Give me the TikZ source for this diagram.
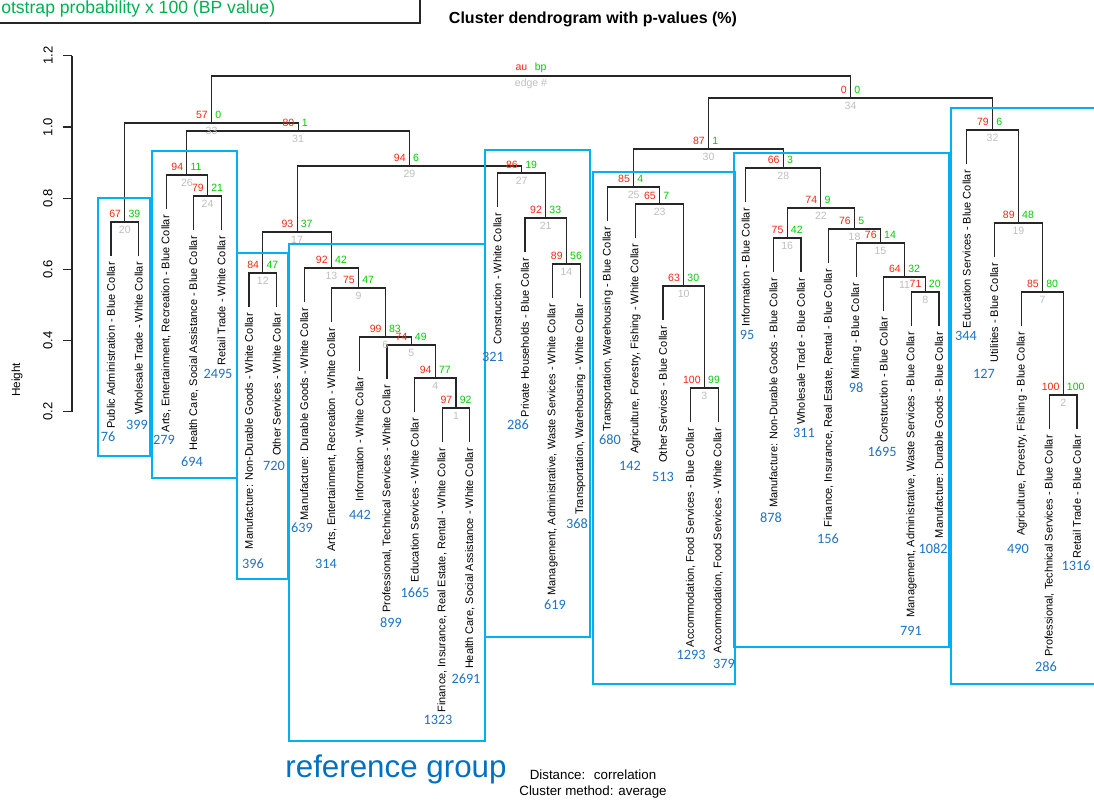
\documentclass[tikz,border=0pt]{standalone}
\usepackage{fontspec}
\setmainfont{Liberation Sans}
\newfontfamily\cntfont{Carlito}
\usetikzlibrary{calc}

\definecolor{aured}{RGB}{240,40,20}
\definecolor{bpgreen}{RGB}{0,205,0}
\definecolor{edgegray}{RGB}{190,190,190}
\definecolor{boxblue}{RGB}{0,176,240}
\definecolor{cntblue}{RGB}{30,115,195}
\definecolor{refblue}{RGB}{0,112,192}
\definecolor{legendgreen}{RGB}{0,176,80}

% leaf: name, position index, end of the hanging line, label
\newcommand{\leaf}[4]{%
  \coordinate (#1) at ({111+27.6*(#2-1)},#3);
  \node[leaflabel] (#1t) at ($(#1)+(0,6)$) {#4};
}
% au / bp / edge numbers of a merge
\newcommand{\pvlab}[4]{%
  \node[aulab] (#1au) at ($(#1)+(-3.5,-8)$) {#2};
  \node[bplab] (#1bp) at ($(#1)+(3.5,-8)$) {#3};
  \node[edgelab] (#1ed) at ($(#1)+(0,8)$) {#4};
}
% elbow link of a merge to its two children
\newcommand{\dlink}[3]{\draw[link] (#2) |- (#1) -| (#3);}

\begin{document}
\begin{tikzpicture}[x=0.75pt,y=-0.75pt,
  link/.style={draw=black!85, line width=0.8pt},
  leaflabel/.style={rotate=90, anchor=east, inner sep=0pt, font=\fontsize{8.25}{9}\selectfont},
  pvnum/.style={inner sep=0pt, font=\fontsize{7.9}{9}\selectfont},
  aulab/.style={pvnum, text=aured, anchor=east},
  bplab/.style={pvnum, text=bpgreen, anchor=west},
  edgelab/.style={pvnum, text=edgegray},
  cnt/.style={inner sep=0pt, text=cntblue, font=\cntfont\fontsize{10.7}{12}\selectfont},
  grpbox/.style={draw=boxblue, line width=1.5pt},
  axis/.style={draw=black!85, line width=0.8pt},
  ticklab/.style={rotate=90, inner sep=0pt, font=\fontsize{9.8}{11}\selectfont}
]
\useasboundingbox (0,0) rectangle (1094,803);
\clip (0,0) rectangle (1094,803);

% legend box (upper left)
\draw[line width=1.1pt, black!85] (-5,23) -- (420,23) -- (420,-5);
\node[anchor=west, inner sep=0pt, text=legendgreen, font=\fontsize{13.2}{15}\selectfont] (legend) at (1,9) {otstrap probability x 100 (BP value)};

% title
\node[font=\bfseries\fontsize{12}{14}\selectfont] (title) at (593,19) {Cluster dendrogram with p-values (\%)};

% height axis
\draw[axis] (72,55.8) -- (72,411.8);
\foreach \h/\yy in {0.2/411.8,0.4/340.6,0.6/269.4,0.8/198.2,1.0/127,1.2/55.8}{
  \draw[axis] (63,\yy) -- (72,\yy);
  \node[ticklab] at (48,\yy) {\h};
}
\node[rotate=90, inner sep=0pt, font=\fontsize{8.8}{10}\selectfont] (ylab) at (17,380) {Height};

% leaves
\leaf{l1}{1}{256}{Public Administration - Blue Collar}
\leaf{l2}{2}{256}{Wholesale Trade - White Collar}
\leaf{l3}{3}{209}{Arts, Entertainment, Recreation - Blue Collar}
\leaf{l4}{4}{230}{Health Care, Social Assistance - Blue Collar}
\leaf{l5}{5}{230}{Retail Trade - White Collar}
\leaf{l6}{6}{307}{Manufacture: Non-Durable Goods - White Collar}
\leaf{l7}{7}{307}{Other Services - White Collar}
\leaf{l8}{8}{302}{Manufacture: Durable Goods - White Collar}
\leaf{l9}{9}{322}{Arts, Entertainment, Recreation - White Collar}
\leaf{l10}{10}{371}{Information - White Collar}
\leaf{l11}{11}{379}{Professional, Technical Services - White Collar}
\leaf{l12}{12}{412}{Education Services - White Collar}
\leaf{l13}{13}{442}{Finance, Insurance, Real Estate, Rental - White Collar}
\leaf{l14}{14}{442}{Health Care, Social Assistance - White Collar}
\leaf{l15}{15}{207}{Construction - White Collar}
\leaf{l16}{16}{252}{Private Households - Blue Collar}
\leaf{l17}{17}{298}{Management, Administrative, Waste Services - White Collar}
\leaf{l18}{18}{298}{Transportation, Warehousing - White Collar}
\leaf{l19}{19}{221}{Transportation, Warehousing - Blue Collar}
\leaf{l20}{20}{238}{Agriculture, Forestry, Fishing - White Collar}
\leaf{l21}{21}{320}{Other Services - Blue Collar}
\leaf{l22}{22}{422}{Accommodation, Food Services - Blue Collar}
\leaf{l23}{23}{422}{Accommodation, Food Services - White Collar}
\leaf{l24}{24}{202}{Information - Blue Collar}
\leaf{l25}{25}{272}{Manufacture: Non-Durable Goods - Blue Collar}
\leaf{l26}{26}{272}{Wholesale Trade - Blue Collar}
\leaf{l27}{27}{263}{Finance, Insurance, Real Estate, Rental - Blue Collar}
\leaf{l28}{28}{277}{Mining - Blue Collar}
\leaf{l29}{29}{311}{Construction - Blue Collar}
\leaf{l30}{30}{326}{Management, Administrative, Waste Services - Blue Collar}
\leaf{l31}{31}{326}{Manufacture: Durable Goods - Blue Collar}
\leaf{l32}{32}{164}{Education Services - Blue Collar}
\leaf{l33}{33}{257}{Utilities - Blue Collar}
\leaf{l34}{34}{326}{Agriculture, Forestry, Fishing - Blue Collar}
\leaf{l35}{35}{429}{Professional, Technical Services - Blue Collar}
\leaf{l36}{36}{429}{Retail Trade - Blue Collar}

% merge points (x = centre of the children, y = height)
\coordinate (m1) at (456,408);
\coordinate (m2) at (1063.2,395);
\coordinate (m3) at (704.4,388);
\coordinate (m4) at (435.3,378);
\coordinate (m5) at (411.2,345);
\coordinate (m6) at (385.3,337);
\coordinate (m7) at (1042.5,292);
\coordinate (m8) at (925.2,292);
\coordinate (m9) at (358.5,288);
\coordinate (m10) at (683.7,286);
\coordinate (m11) at (904.5,277);
\coordinate (m12) at (262.8,273);
\coordinate (m13) at (331.4,268);
\coordinate (m14) at (566.4,264);
\coordinate (m15) at (880.4,243);
\coordinate (m16) at (787.2,238);
\coordinate (m17) at (297.1,232);
\coordinate (m18) at (854.5,229);
\coordinate (m19) at (1018.4,223);
\coordinate (m20) at (124.8,222);
\coordinate (m21) at (545.7,218);
\coordinate (m22) at (820.9,208);
\coordinate (m23) at (659.6,204);
\coordinate (m24) at (207.6,196);
\coordinate (m25) at (633.7,187);
\coordinate (m26) at (186.9,175);
\coordinate (m27) at (521.6,173);
\coordinate (m28) at (783.3,168);
\coordinate (m29) at (409.4,166);
\coordinate (m30) at (708.5,149);
\coordinate (m31) at (298.1,131);
\coordinate (m32) at (992.5,130);
\coordinate (m33) at (211.5,123);
\coordinate (m34) at (850.5,98);
\coordinate (m35) at (531,76);

% dendrogram links
\dlink{m1}{l13}{l14}
\dlink{m2}{l35}{l36}
\dlink{m3}{l22}{l23}
\dlink{m4}{l12}{m1}
\dlink{m5}{l11}{m4}
\dlink{m6}{l10}{m5}
\dlink{m7}{l34}{m2}
\dlink{m8}{l30}{l31}
\dlink{m9}{l9}{m6}
\dlink{m10}{l21}{m3}
\dlink{m11}{l29}{m8}
\dlink{m12}{l6}{l7}
\dlink{m13}{l8}{m9}
\dlink{m14}{l17}{l18}
\dlink{m15}{l28}{m11}
\dlink{m16}{l25}{l26}
\dlink{m17}{m12}{m13}
\dlink{m18}{l27}{m15}
\dlink{m19}{l33}{m7}
\dlink{m20}{l1}{l2}
\dlink{m21}{l16}{m14}
\dlink{m22}{m16}{m18}
\dlink{m23}{l20}{m10}
\dlink{m24}{l4}{l5}
\dlink{m25}{l19}{m23}
\dlink{m26}{l3}{m24}
\dlink{m27}{l15}{m21}
\dlink{m28}{l24}{m22}
\dlink{m29}{m17}{m27}
\dlink{m30}{m25}{m28}
\dlink{m31}{m26}{m29}
\dlink{m32}{l32}{m19}
\dlink{m33}{m20}{m31}
\dlink{m34}{m30}{m32}
\dlink{m35}{m33}{m34}

% p-values and edge numbers
\pvlab{m1}{97}{92}{1}
\pvlab{m2}{100}{100}{2}
\pvlab{m3}{100}{99}{3}
\pvlab{m4}{94}{77}{4}
\pvlab{m5}{74}{49}{5}
\pvlab{m6}{99}{83}{6}
\pvlab{m7}{85}{80}{7}
\pvlab{m8}{71}{20}{8}
\pvlab{m9}{75}{47}{9}
\pvlab{m10}{63}{30}{10}
\pvlab{m11}{64}{32}{11}
\pvlab{m12}{84}{47}{12}
\pvlab{m13}{92}{42}{13}
\pvlab{m14}{89}{56}{14}
\pvlab{m15}{76}{14}{15}
\pvlab{m16}{75}{42}{16}
\pvlab{m17}{93}{37}{17}
\pvlab{m18}{76}{5}{18}
\pvlab{m19}{89}{48}{19}
\pvlab{m20}{67}{39}{20}
\pvlab{m21}{92}{33}{21}
\pvlab{m22}{74}{9}{22}
\pvlab{m23}{65}{7}{23}
\pvlab{m24}{79}{21}{24}
\pvlab{m25}{85}{4}{25}
\pvlab{m26}{94}{11}{26}
\pvlab{m27}{86}{19}{27}
\pvlab{m28}{66}{3}{28}
\pvlab{m29}{94}{6}{29}
\pvlab{m30}{87}{1}{30}
\pvlab{m31}{80}{1}{31}
\pvlab{m32}{79}{6}{32}
\pvlab{m33}{57}{0}{33}
\pvlab{m34}{0}{0}{34}
\pvlab{m35}{au}{bp}{edge \#}

% group frames
\draw[grpbox] (98,198) rectangle (150,456);
\draw[grpbox] (152,151) rectangle (237,478);
\draw[grpbox] (237,253) rectangle (288,579);
\draw[grpbox] (289,244) rectangle (485,741);
\draw[grpbox] (485,150) rectangle (590,637);
\draw[grpbox] (593,172) rectangle (735,684);
\draw[grpbox] (734,153) rectangle (949,647);
\draw[grpbox] (951,108) rectangle (1110,684);

% counts
\node[cnt] (c1) at (108,437) {76};
\node[cnt] (c2) at (137,425) {399};
\node[cnt] (c3) at (164,440) {279};
\node[cnt] (c4) at (192,462) {694};
\node[cnt] (c5) at (218,374) {2495};
\node[cnt] (c6) at (253,564) {396};
\node[cnt] (c7) at (274,466) {720};
\node[cnt] (c8) at (302,528) {639};
\node[cnt] (c9) at (326,564) {314};
\node[cnt] (c10) at (360,515) {442};
\node[cnt] (c11) at (391,623) {899};
\node[cnt] (c12) at (415,593) {1665};
\node[cnt] (c13) at (438,720) {1323};
\node[cnt] (c14) at (466,679) {2691};
\node[cnt] (c15) at (493,357) {321};
\node[cnt] (c16) at (518,425) {286};
\node[cnt] (c17) at (555,605) {619};
\node[cnt] (c18) at (577,524) {368};
\node[cnt] (c19) at (610,440) {680};
\node[cnt] (c20) at (630,466) {142};
\node[cnt] (c21) at (663,477) {513};
\node[cnt] (c22) at (691,655) {1293};
\node[cnt] (c23) at (724,664) {379};
\node[cnt] (c24) at (747,335) {95};
\node[cnt] (c25) at (771,518) {878};
\node[cnt] (c26) at (804,433) {311};
\node[cnt] (c27) at (828,539) {156};
\node[cnt] (c28) at (856,388) {98};
\node[cnt] (c29) at (882,452) {1695};
\node[cnt] (c30) at (911,631) {791};
\node[cnt] (c31) at (933,549) {1082};
\node[cnt] (c32) at (966,336) {344};
\node[cnt] (c33) at (984,374) {127};
\node[cnt] (c34) at (1018,549) {490};
\node[cnt] (c35) at (1046,667) {286};
\node[cnt] (c36) at (1076,566) {1316};

% group caption and method notes
\node[text=refblue, inner sep=0pt, font=\fontsize{23.5}{28}\selectfont] (refgrp) at (396,769) {reference group};
\node[inner sep=0pt, font=\fontsize{10}{12}\selectfont] (dist) at (593,775) {Distance:~ correlation};
\node[inner sep=0pt, font=\fontsize{10}{12}\selectfont] (meth) at (593,792) {Cluster method: average};
\end{tikzpicture}
\end{document}
